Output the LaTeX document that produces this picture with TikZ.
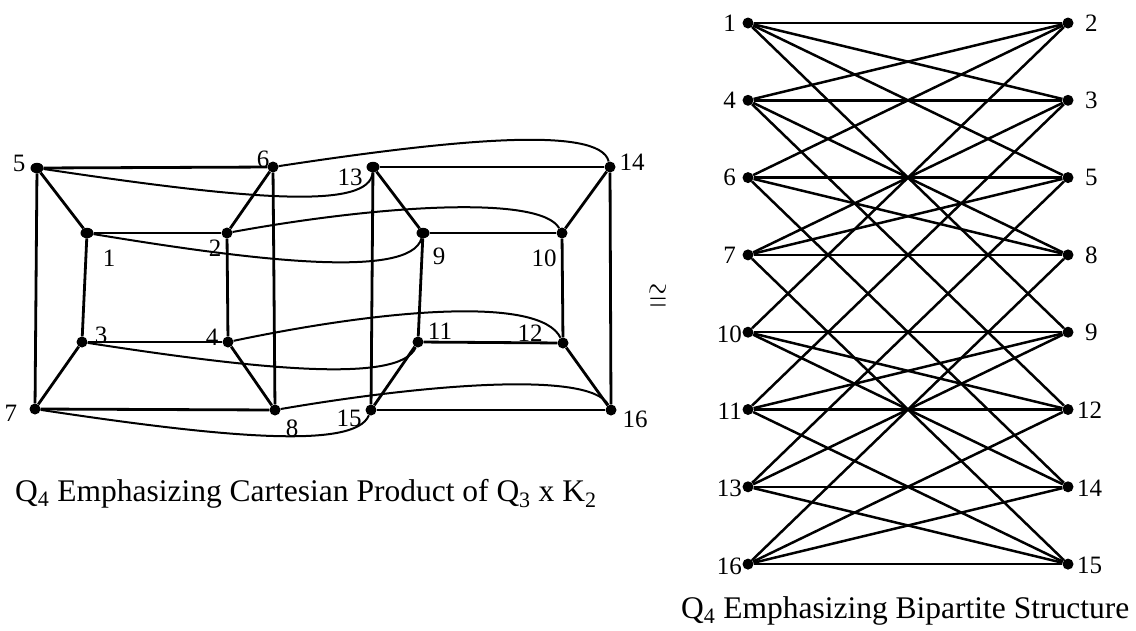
\documentclass[tikz,border=0pt]{standalone}
\usepackage{fontspec}
\usepackage{graphicx}
\setmainfont{Liberation Serif}
\usetikzlibrary{shapes.geometric}
\begin{document}
\begin{tikzpicture}[x=1pt,y=-1pt,
  dot/.style={circle,fill=black,inner sep=0pt,minimum size=11pt},
  dotw/.style={ellipse,fill=black,inner sep=0pt,minimum width=13pt,minimum height=10.5pt},
  lbl/.style={inner sep=0pt,font=\fontsize{25}{25}\selectfont},
  cubeedge/.style={line width=2.8pt},
  curvy/.style={line width=2pt},
  bedge/.style={line width=2.5pt},
  captext/.style={inner sep=0pt,font=\fontsize{31.5}{31.5}\selectfont}]
\useasboundingbox (0,0) rectangle (1136,630);
% ---------- left graph: nodes ----------
\node[dotw] (n5)  at (37,168)  {};
\node[dot]  (n6)  at (273,167) {};
\node[dotw] (n13) at (373,167) {};
\node[dot]  (n14) at (610,167) {};
\node[dotw] (n1)  at (87,233)  {};
\node[dot]  (n2)  at (227,233) {};
\node[dotw] (n9)  at (423,233) {};
\node[dot]  (n10) at (562,233) {};
\node[dot]  (n3)  at (82,342)  {};
\node[dot]  (n4)  at (228,342) {};
\node[dot]  (n11) at (418,342) {};
\node[dot]  (n12) at (563,343) {};
\node[dot]  (n7)  at (35,409)  {};
\node[dot]  (n8)  at (275,410) {};
\node[dot]  (n15) at (371,410) {};
\node[dot]  (n16) at (611,410) {};
% cube edges
\foreach \a/\b in {5/6,6/8,8/7,7/5,1/2,2/4,4/3,3/1,5/1,6/2,7/3,8/4,
                   13/14,14/16,16/15,15/13,9/10,10/12,12/11,11/9,13/9,14/10,15/11,16/12}
  \draw[cubeedge] (n\a) -- (n\b);
% matching curves
\draw[curvy] (n6) .. controls (450,140) and (600,125) .. (n14);
\draw[curvy] (n5) .. controls (250,200) and (370,210) .. (n13);
\draw[curvy] (n2) .. controls (380,205) and (540,195) .. (n10);
\draw[curvy] (n1) .. controls (250,260) and (410,280) .. (n9);
\draw[curvy] (n4) .. controls (380,310) and (540,295) .. (n12);
\draw[curvy] (n3) .. controls (250,368) and (400,385) .. (n11);
\draw[curvy] (n8) .. controls (420,385) and (590,370) .. (n16);
\draw[curvy] (n7) .. controls (220,437) and (355,450) .. (n15);
% labels
\node[lbl] (l5)  at (19,163)  {5};
\node[lbl] (l6)  at (263,159) {6};
\node[lbl] (l1)  at (109,258) {1};
\node[lbl] (l2)  at (215,248) {2};
\node[lbl] (l3)  at (101,335) {3};
\node[lbl] (l4)  at (212,337) {4};
\node[lbl] (l7)  at (11,413)  {7};
\node[lbl] (l8)  at (292,428) {8};
\node[lbl] (l13) at (350,177) {13};
\node[lbl] (l14) at (632,162) {14};
\node[lbl] (l9)  at (439,256) {9};
\node[lbl] (l10) at (544,258) {10};
\node[lbl] (l11) at (440,331) {11};
\node[lbl] (l12) at (530,333) {12};
\node[lbl] (l15) at (349,418) {15};
\node[lbl] (l16) at (635,419) {16};
\node[captext, anchor=base west] (capL) at (15,501)
  {Q\textsubscript{4} Emphasizing Cartesian Product of Q\textsubscript{3} x K\textsubscript{2}};
% ---------- isomorphism sign ----------
\node[inner sep=0pt] (iso) at (658,298) {\scalebox{1}[1.5]{\fontsize{43}{43}\selectfont$\cong$}};
% ---------- right graph ----------
\foreach \n [count=\i from 0] in {1,4,6,7,10,11,13,16}
  \node[dot] (b\n) at (748,{23+77.3*\i}) {};
\foreach \n [count=\i from 0] in {2,3,5,8,9,12,14,15}
  \node[dot] (b\n) at (1068,{23+77.3*\i}) {};
\foreach \a/\b in {1/2,1/3,1/5,1/9,4/2,4/3,4/8,4/12,6/2,6/5,6/8,6/14,7/3,7/5,7/8,7/15,
                   10/2,10/9,10/12,10/14,11/3,11/9,11/12,11/15,13/5,13/9,13/14,13/15,
                   16/8,16/12,16/14,16/15}
  \draw[bedge] (b\a) -- (b\b);
\foreach \n [count=\i from 0] in {1,4,6,7}
  \node[lbl, anchor=east] (bl\n) at (736,{23+77.3*\i}) {\n};
\foreach \n [count=\i from 4] in {10,11,13,16}
  \node[lbl, anchor=east] (bl\n) at (742,{25+77.3*\i}) {\n};
\foreach \n [count=\i from 0] in {2,3,5,8,9}
  \node[lbl, anchor=west] (bl\n) at (1085,{23+77.3*\i}) {\n};
\foreach \n [count=\i from 5] in {12,14,15}
  \node[lbl, anchor=west] (bl\n) at (1077,{24+77.3*\i}) {\n};
\node[captext, anchor=base west] (capR) at (681,618)
  {Q\textsubscript{4} Emphasizing Bipartite Structure};
\end{tikzpicture}
\end{document}
